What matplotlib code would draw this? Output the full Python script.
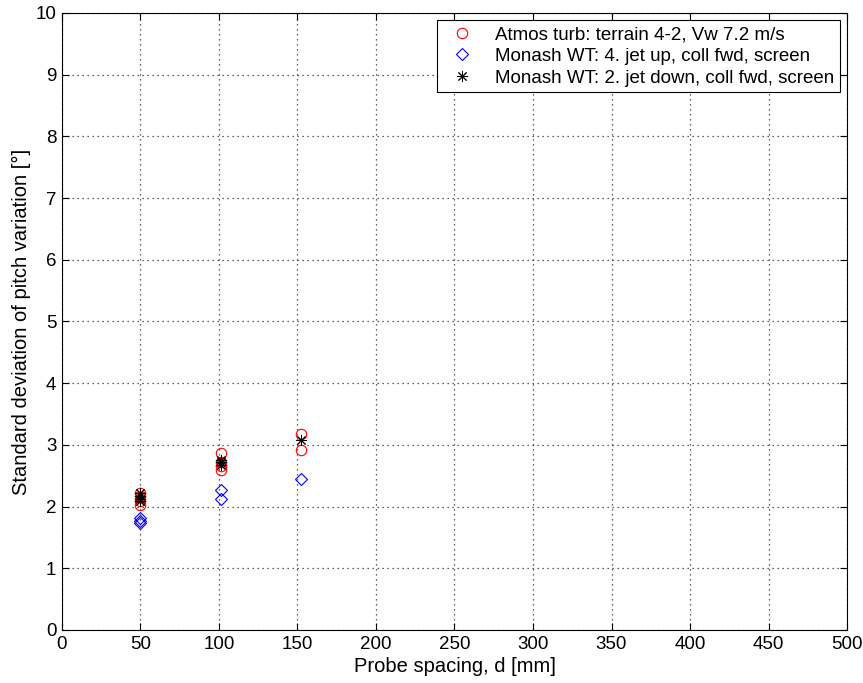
import matplotlib
matplotlib.use("Agg")
import matplotlib.pyplot as plt

plt.rcParams['font.family'] = ['Liberation Sans', 'DejaVu Sans']

atmos_x = [50, 50, 50, 50, 101, 101, 101, 101, 152, 152]
atmos_y = [2.22, 2.15, 2.09, 2.03, 2.87, 2.73, 2.66, 2.59, 3.17, 2.91]
up_x = [50, 50, 50, 101, 101, 152]
up_y = [1.81, 1.77, 1.74, 2.27, 2.12, 2.44]
down_x = [50, 50, 50, 50, 101, 101, 101, 152]
down_y = [2.22, 2.17, 2.12, 2.09, 2.76, 2.72, 2.68, 3.08]

labels = ["Atmos turb: terrain 4-2, Vw 7.2 m/s",
          "Monash WT: 4. jet up, coll fwd, screen",
          "Monash WT: 2. jet down, coll fwd, screen"]

fig = plt.figure(figsize=(8.63, 6.83), dpi=100)
ax = fig.add_axes([0.0718, 0.0776, 0.9097, 0.9034])
ax.plot(atmos_x, atmos_y, 'o', mfc='none', mec='red', ms=7.5, mew=0.8, ls='none', label=labels[0])
ax.plot(up_x, up_y, 'D', mfc='none', mec='blue', ms=6.5, mew=0.8, ls='none', label=labels[1])
ax.plot(down_x, down_y, ls='none', color='black', ms=8, mew=0.7, marker=(8, 2, 0), label=labels[2])

ax.set_xlim(0, 500)
ax.set_ylim(0, 10)
ax.set_xticks(range(0, 501, 50))
ax.set_yticks(range(0, 11, 1))
ax.grid(True, linestyle=(0, (1, 3)), color='#333333', linewidth=0.9)
ax.tick_params(direction='in', labelsize=13.5, top=True, right=True, length=5, pad=4)
for s in ax.spines.values():
    s.set_linewidth(0.8)
ax.set_xlabel("Probe spacing, d [mm]", fontsize=14.5, labelpad=3)
ax.set_ylabel("Standard deviation of pitch variation [°]", fontsize=14.5, labelpad=3)
leg = ax.legend(loc='upper right', fontsize=13.5, fancybox=False, framealpha=1,
                edgecolor='black', borderaxespad=0.4, handletextpad=0.75,
                labelspacing=0.25, borderpad=0.3, handlelength=2.0)
leg.get_frame().set_linewidth(0.8)
fig.savefig("out.png", dpi=100)
